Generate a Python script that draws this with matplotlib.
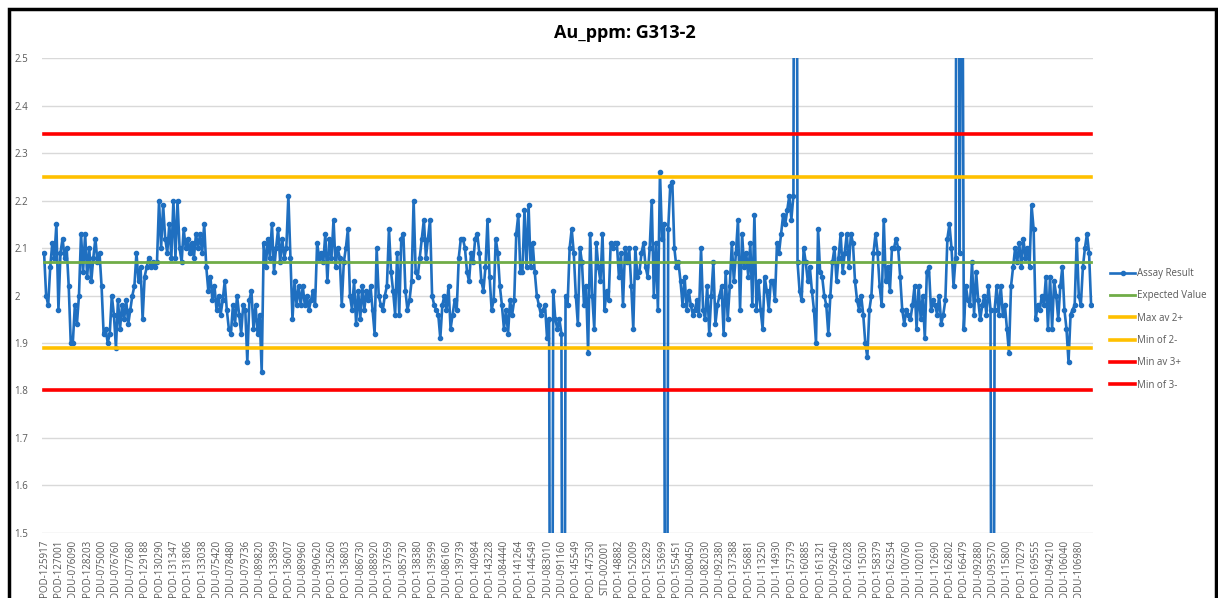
import numpy as np
import matplotlib.pyplot as plt
from matplotlib.patches import Rectangle

plt.rcParams['font.family'] = ['Open Sans', 'DejaVu Sans']

TITLE = "Au_ppm: G313-2"

# every 7th sample id is printed on the category axis
SAMPLE_IDS = [
    "POD-125917", "POD-127001", "DDU-076090", "POD-128203", "DDU-075000",
    "DDU-076760", "DDU-077680", "POD-129188", "POD-130290", "POD-131347",
    "POD-131806", "POD-133038", "DDU-075420", "DDU-078480", "DDU-079736",
    "DDU-089820", "POD-133899", "POD-136007", "DDU-089960", "DDU-090620",
    "POD-135260", "POD-136803", "DDU-086730", "DDU-088920", "POD-137659",
    "DDU-085730", "POD-138380", "POD-139599", "DDU-086160", "POD-139739",
    "POD-140984", "POD-143228", "DDU-084440", "POD-141264", "POD-144549",
    "DDU-083010", "DDU-091160", "POD-145549", "POD-147530", "STD-002001",
    "POD-148882", "POD-152009", "POD-152829", "POD-153699", "POD-155451",
    "DDU-080450", "DDU-082030", "DDU-092380", "POD-137388", "POD-156881",
    "DDU-113250", "DDU-114930", "POD-157379", "POD-160885", "POD-161321",
    "DDU-092640", "POD-162028", "DDU-115030", "POD-158379", "POD-162354",
    "DDU-100760", "DDU-102010", "DDU-112690", "POD-162802", "POD-166479",
    "DDU-092880", "DDU-093570", "DDU-115800", "POD-170279", "POD-169555",
    "DDU-094210", "DDU-106040", "DDU-106980",
]
LABEL_STEP = 7

# Au assay results (ppm) for the G313-2 standard, in submission order
ASSAY = [
    2.09, 2.00, 1.98, 2.06, 2.11, 2.08, 2.15,
    1.97, 2.09, 2.12, 2.08, 2.10, 2.02, 1.90,
    1.90, 1.98, 1.94, 2.00, 2.13, 2.05, 2.13,
    2.04, 2.10, 2.03, 2.08, 2.12, 2.07, 2.09,
    2.02, 1.92, 1.93, 1.90, 1.92, 2.00, 1.96,
    1.89, 1.99, 1.93, 1.98, 1.95, 1.99, 1.94,
    1.97, 2.00, 2.02, 2.09, 2.03, 2.06, 1.95,
    2.04, 2.06, 2.08, 2.06, 2.07, 2.06, 2.07,
    2.20, 2.10, 2.19, 2.12, 2.09, 2.15, 2.08,
    2.20, 2.08, 2.20, 2.10, 2.07, 2.14, 2.10,
    2.12, 2.09, 2.11, 2.08, 2.13, 2.10, 2.13,
    2.09, 2.15, 2.06, 2.01, 2.04, 1.99, 2.02,
    1.97, 2.00, 1.96, 1.99, 2.03, 1.97, 1.93,
    1.92, 1.98, 1.94, 2.00, 1.96, 1.92, 1.98,
    1.97, 1.86, 1.99, 2.01, 1.93, 1.98, 1.92,
    1.96, 1.84, 2.11, 2.06, 2.12, 2.08, 2.15,
    2.05, 2.10, 2.14, 2.07, 2.12, 2.08, 2.10,
    2.21, 2.08, 1.95, 2.03, 1.98, 2.02, 1.98,
    2.02, 1.98, 2.00, 1.97, 1.99, 2.01, 1.98,
    2.11, 2.08, 2.09, 2.07, 2.13, 2.03, 2.12,
    2.08, 2.16, 2.06, 2.10, 2.08, 1.98, 2.07,
    2.10, 2.14, 2.00, 1.97, 2.03, 1.94, 2.01,
    1.95, 2.02, 1.97, 2.01, 1.99, 2.02, 1.97,
    1.92, 2.10, 2.00, 1.98, 1.97, 2.00, 2.02,
    2.14, 2.05, 2.01, 1.96, 2.09, 1.96, 2.12,
    2.13, 2.01, 1.97, 1.99, 2.03, 2.20, 2.05,
    2.04, 2.08, 2.12, 2.16, 2.08, 2.12, 2.16,
    2.00, 1.98, 1.97, 1.96, 1.91, 1.98, 2.00,
    1.97, 2.02, 1.93, 1.96, 1.99, 1.97, 2.08,
    2.12, 2.12, 2.10, 2.05, 2.03, 2.09, 2.07,
    2.12, 2.13, 2.09, 2.03, 2.01, 2.06, 2.16,
    2.04, 1.97, 1.99, 2.12, 2.09, 2.02, 1.98,
    1.93, 1.97, 1.92, 1.99, 1.96, 1.99, 2.13,
    2.17, 2.05, 2.05, 2.18, 2.06, 2.19, 2.06,
    2.11, 2.05, 2.00, 1.98, 1.96, 1.97, 1.98,
    1.91, 1.95, 0.01, 2.01, 1.95, 1.93, 1.95,
    1.92, 0.01, 2.00, 1.98, 2.10, 2.14, 2.09,
    2.00, 1.94, 2.10, 2.07, 1.98, 2.02, 1.88,
    2.13, 2.00, 1.93, 2.11, 2.06, 2.03, 2.13,
    1.97, 2.01, 1.99, 2.11, 2.10, 2.11, 2.11,
    2.04, 2.09, 1.98, 2.10, 2.07, 2.10, 2.02,
    1.93, 2.10, 2.04, 2.05, 2.09, 2.11, 2.06,
    2.04, 2.10, 2.20, 2.00, 2.11, 1.97, 2.26,
    2.12, 2.15, 0.01, 2.14, 2.23, 2.24, 2.10,
    2.06, 2.07, 2.03, 1.98, 2.04, 1.97, 2.01,
    1.98, 1.96, 1.97, 1.99, 1.96, 2.10, 1.97,
    1.95, 2.02, 1.92, 2.00, 2.07, 1.94, 1.98,
    2.00, 2.02, 1.92, 2.05, 1.95, 2.02, 2.11,
    2.03, 2.09, 2.16, 1.97, 2.13, 2.06, 2.09,
    2.04, 2.11, 1.98, 2.17, 1.97, 2.03, 1.97,
    1.93, 2.04, 2.01, 1.97, 2.03, 2.03, 1.99,
    2.11, 2.09, 2.13, 2.17, 2.15, 2.18, 2.21,
    2.16, 2.21, 4.50, 2.07, 2.01, 1.99, 2.10,
    2.07, 2.03, 2.06, 2.01, 1.97, 1.90, 2.14,
    2.05, 2.04, 2.00, 1.98, 1.92, 2.00, 2.07,
    2.10, 2.03, 2.08, 2.13, 2.05, 2.09, 2.13,
    2.06, 2.13, 2.11, 2.03, 1.99, 1.97, 2.00,
    1.96, 1.90, 1.87, 1.97, 2.00, 2.09, 2.13,
    2.09, 2.02, 1.98, 2.16, 2.03, 2.06, 2.01,
    2.10, 2.10, 2.12, 2.10, 2.04, 1.97, 1.94,
    1.97, 1.96, 1.95, 1.98, 2.02, 1.93, 2.02,
    1.95, 2.00, 1.91, 2.05, 2.06, 1.97, 1.99,
    1.98, 1.96, 2.00, 1.94, 1.96, 1.99, 2.12,
    2.15, 2.10, 2.02, 2.08, 4.00, 2.09, 3.20,
    1.93, 2.02, 1.99, 1.98, 2.07, 1.96, 2.05,
    1.99, 1.95, 1.98, 2.00, 1.96, 2.02, 1.97,
    0.01, 1.97, 2.02, 1.96, 2.02, 1.96, 1.98,
    1.93, 1.88, 2.02, 2.06, 2.10, 2.07, 2.11,
    2.06, 2.12, 2.08, 2.10, 2.06, 2.19, 2.14,
    1.95, 1.98, 1.97, 2.00, 1.98, 2.04, 1.93,
    2.04, 1.93, 2.03, 2.00, 1.95, 2.02, 2.06,
    1.97, 1.93, 1.86, 1.96, 1.97, 1.98, 2.12,
    2.00, 1.98, 2.06, 2.10, 2.13, 2.09, 1.98,
]

# control limits
EXPECTED = 2.07
MAX_AV_2 = 2.25
MIN_OF_2 = 1.89
MIN_AV_3 = 2.34
MIN_OF_3 = 1.80

BLUE = "#1f6fc0"
GREEN = "#70ad47"
GOLD = "#ffc000"
RED = "#ff0000"
GREY = "#595959"

fig = plt.figure(figsize=(12.18, 5.98), dpi=100)
ax = fig.add_axes([0.0345, 0.1087, 0.863, 0.7943])

x = np.arange(len(ASSAY))
ax.plot(x, ASSAY, color=BLUE, lw=1.9, marker='o', ms=3.0, label="Assay Result", zorder=2)

limits = [
    (EXPECTED, GREEN, 2.0, "Expected Value"),
    (MAX_AV_2, GOLD, 2.6, "Max av 2+"),
    (MIN_OF_2, GOLD, 2.6, "Min of 2-"),
    (MIN_AV_3, RED, 2.6, "Min av 3+"),
    (MIN_OF_3, RED, 2.6, "Min of 3-"),
]
for val, col, lw, name in limits:
    ax.plot(x, np.full(len(x), val), color=col, lw=lw, label=name, zorder=3)

ax.set_ylim(1.5, 2.5)
ax.set_xlim(-1, len(x))
ax.set_yticks(np.arange(1.5, 2.51, 0.1))
ax.yaxis.set_major_formatter(lambda v, p: f"{v:g}")
ax.grid(axis='y', color='#d9d9d9', lw=1)
ax.set_axisbelow(True)
for s in ax.spines.values():
    s.set_visible(False)

ax.set_xticks(x[::LABEL_STEP])
ax.set_xticklabels(SAMPLE_IDS, rotation=90, fontsize=7, color=GREY)
ax.tick_params(axis='x', length=0, pad=5)
ax.tick_params(axis='y', length=0, pad=20, labelsize=7, labelcolor=GREY)
for t in ax.get_yticklabels():
    t.set_horizontalalignment('left')

fig.text(0.513, 0.945, TITLE, ha='center', va='center', fontsize=13, fontweight='bold')

fig.legend(loc='upper left', bbox_to_anchor=(1110 / 1218, 1 - 268 / 598),
           frameon=False, fontsize=7, handlelength=2.6, handletextpad=0.2,
           labelspacing=1.17, borderpad=0, borderaxespad=0, labelcolor=GREY)

# black frame around the chart
fig.add_artist(Rectangle((8.5 / 1218, -0.05), 1207 / 1218, 1.05 - 8.5 / 598,
                         transform=fig.transFigure, fill=False, ec='black', lw=2.5))

fig.savefig('out.png', dpi=100)
